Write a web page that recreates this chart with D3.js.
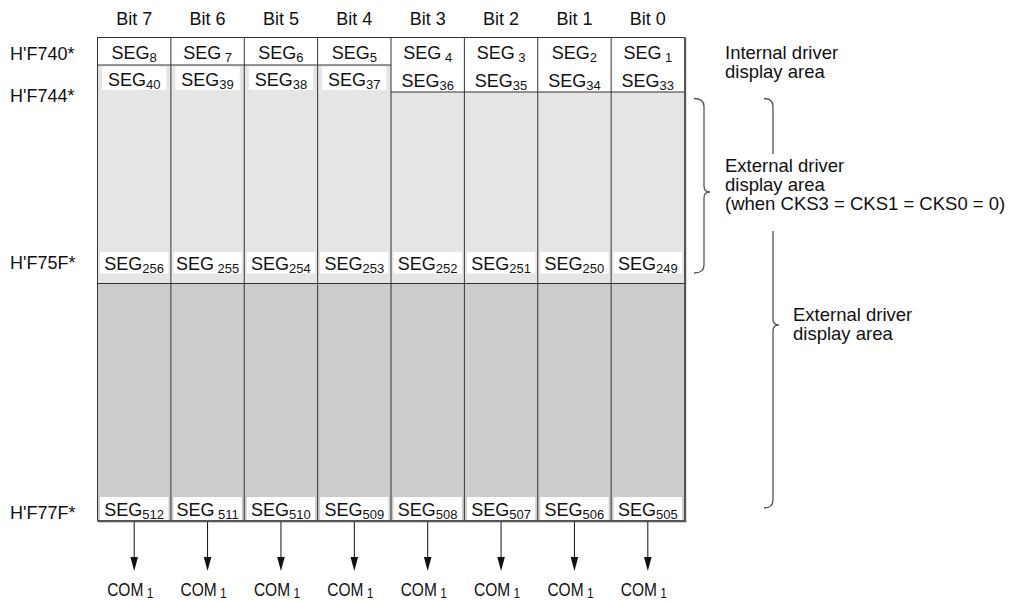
<!DOCTYPE html>
<html><head><meta charset="utf-8">
<script src="https://cdn.jsdelivr.net/npm/d3@7"></script>
<style>
body{margin:0;background:#fff}
text{font-family:"Liberation Sans",Arial,Helvetica,sans-serif;fill:#111;white-space:pre}
</style>
</head><body><svg id="c" width="1015" height="601"></svg>
<script>
// ---------- data ----------
const bits = ["Bit 7","Bit 6","Bit 5","Bit 4","Bit 3","Bit 2","Bit 1","Bit 0"];
const addresses = ["H'F740*","H'F744*","H'F75F*","H'F77F*"];
const segRow1 = ["8"," 7","6","5"," 4"," 3","2"," 1"];
const segRow2 = ["40","39","38","37","36","35","34","33"];
const segRow3 = ["256"," 255","254","253","252","251","250","249"];
const segRow4 = ["512"," 511","510","509","508","507","506","505"];
const row2Shaded = [true,true,true,true,false,false,false,false];
const comLabels = ["1","1","1","1","1","1","1","1"];
const internalNote = ["Internal driver","display area"];
const externalNoteA = ["External driver","display area","(when CKS3 = CKS1 = CKS0 = 0)"];
const externalNoteB = ["External driver","display area"];

// ---------- layout ----------
const svg = d3.select("#c");
const x = d3.scaleBand().domain(bits).range([97.5, 684.5]).paddingInner(0);
const W = x.bandwidth();
const Y = {top:37.5, row1:65, row2:92, mid:283.5, bottom:520.5,
           arrowEnd:571, com:596};
const addrY = [59.5, 102, 269, 519];
const F = 18, FS = 13, FN = 18.5, FC = 15.5;
const light = "#e5e5e5", dark = "#cccccc";

// backgrounds
const g = svg.append("g");
bits.forEach((b,i)=>{
  const y0 = row2Shaded[i] ? Y.row1 : Y.row2;
  g.append("rect").attr("x",x(b)).attr("y",y0).attr("width",W).attr("height",Y.mid-y0).attr("fill",light);
  g.append("rect").attr("x",x(b)).attr("y",Y.mid).attr("width",W).attr("height",Y.bottom-Y.mid).attr("fill",dark);
});

// white label boxes
function box(b, y0, y1, inset){
  g.append("rect").attr("x",x(b)+inset).attr("y",y0).attr("width",W-2*inset).attr("height",y1-y0).attr("fill","#fff");
}
bits.forEach((b,i)=>{
  if(row2Shaded[i]) box(b, 66.5, 90, 4.5);
  box(b, 252, 273.5, 2.5);
  box(b, 497, Y.bottom, 2.5);
});

// grid lines
const lines = svg.append("g").attr("stroke","#333").attr("stroke-width",1).attr("fill","none");
bits.slice(1).forEach(b=>{
  lines.append("line").attr("x1",x(b)).attr("x2",x(b)).attr("y1",Y.top).attr("y2",Y.bottom);
});
bits.forEach((b,i)=>{
  const yy = row2Shaded[i] ? Y.row1 : Y.row2;
  lines.append("line").attr("x1",x(b)).attr("x2",x(b)+W).attr("y1",yy).attr("y2",yy);
});
lines.append("line").attr("x1",x.range()[0]).attr("x2",x.range()[1]).attr("y1",Y.mid).attr("y2",Y.mid);
// outer border
lines.append("rect").attr("x",x.range()[0]).attr("y",Y.top).attr("width",x.range()[1]-x.range()[0]).attr("height",Y.bottom-Y.top);
const edge = svg.append("g").attr("stroke","#555").attr("stroke-width",2.2).attr("fill","none");
edge.append("line").attr("x1",x.range()[1]+0.6).attr("x2",x.range()[1]+0.6).attr("y1",Y.top).attr("y2",Y.bottom+1.1);
edge.append("line").attr("x1",x.range()[0]).attr("x2",x.range()[1]+1.7).attr("y1",Y.bottom+0.6).attr("y2",Y.bottom+0.6);

// header labels
svg.append("g").selectAll("text").data(bits).join("text")
  .attr("x",d=>x(d)+W/2).attr("y",25).attr("text-anchor","middle").attr("font-size",F).text(d=>d);

// address labels
svg.append("g").selectAll("text").data(addresses).join("text")
  .attr("x",10).attr("y",(d,i)=>addrY[i]).attr("font-size",F).text(d=>d);

// SEG labels
function segRow(arr, baselineFn){
  svg.append("g").selectAll("text").data(arr).join("text")
    .attr("x",(d,i)=>x(bits[i])+W/2).attr("y",(d,i)=>baselineFn(i))
    .attr("text-anchor","middle")
    .each(function(d){
      const t = d3.select(this);
      t.append("tspan").attr("font-size",F).text("SEG");
      t.append("tspan").attr("font-size",FS).attr("dy",3.5).text(d);
    });
}
segRow(segRow1, i=>58.5);
segRow(segRow2, i=>row2Shaded[i] ? 85.5 : 86.5);
segRow(segRow3, i=>269.5);
segRow(segRow4, i=>515.5);

// arrows + COM labels
const ar = svg.append("g");
bits.forEach((b,i)=>{
  const cx = x(b)+W/2;
  ar.append("line").attr("x1",cx).attr("x2",cx).attr("y1",Y.bottom+1.5).attr("y2",Y.arrowEnd-12).attr("stroke","#111").attr("stroke-width",1);
  ar.append("path").attr("d",`M${cx-3.8},${Y.arrowEnd-14}L${cx+3.8},${Y.arrowEnd-14}L${cx},${Y.arrowEnd}Z`).attr("fill","#111");
  const t = ar.append("text").attr("transform",`translate(${cx-27},${Y.com}) scale(1,1.22)`);
  t.append("tspan").attr("font-size",FC).text("COM");
  t.append("tspan").attr("font-size",12).attr("dy",1.8).text(" "+comLabels[i]);
});

// braces
function brace(bx, y0, y1, ym, endX, tipX){
  const r = 8;
  return `M${endX},${y0} Q${bx},${y0} ${bx},${y0+r} L${bx},${ym-6} Q${bx},${ym} ${tipX},${ym} Q${bx},${ym} ${bx},${ym+6} L${bx},${y1-r} Q${bx},${y1} ${endX},${y1}`;
}
const br = svg.append("g").attr("stroke","#555").attr("stroke-width",1.3).attr("fill","none");
br.append("path").attr("d",brace(704, 98.5, 273, 192, 694, 710));
br.append("path").attr("d",brace(773, 98.5, 508, 325, 764, 779));

// annotation texts
svg.append("rect").attr("x",720).attr("y",154).attr("width",292).attr("height",77).attr("fill","#fff");
function note(lines, x0, y0){
  svg.append("g").selectAll("text").data(lines).join("text")
    .attr("x",x0).attr("y",(d,i)=>y0+i*19).attr("font-size",FN).text(d=>d);
}
note(internalNote, 725, 58.5);
note(externalNoteA, 725, 172);
note(externalNoteB, 793, 321);
</script>
</body></html>
